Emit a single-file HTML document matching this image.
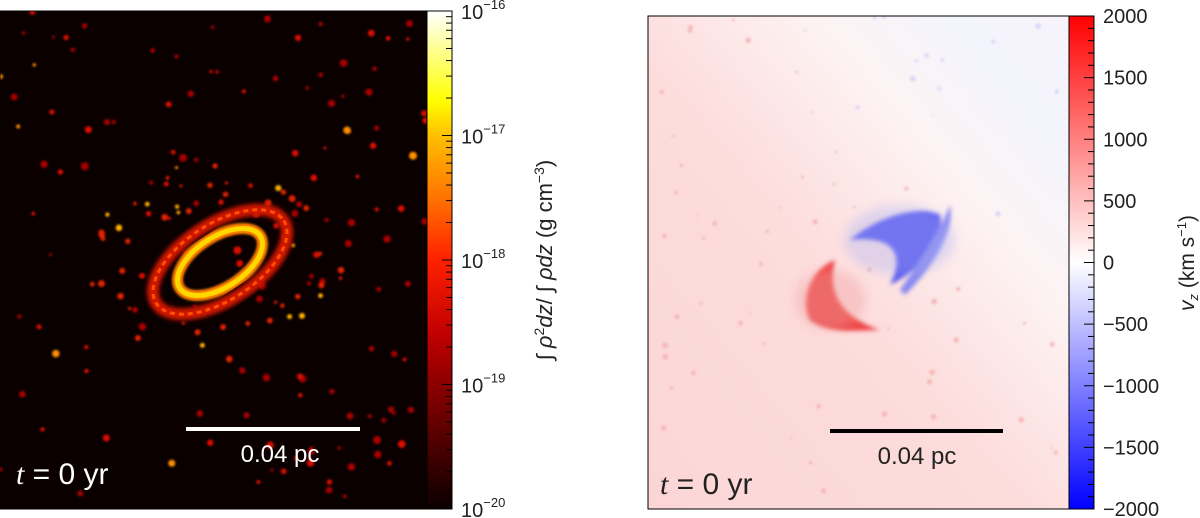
<!DOCTYPE html>
<html><head><meta charset="utf-8"><style>
html,body{margin:0;padding:0;background:#fff;width:1200px;height:518px;overflow:hidden}
svg text{font-family:"Liberation Sans",sans-serif;fill:#222}
</style></head><body>
<svg id="fig" width="1200" height="518" viewBox="0 0 1200 518">
<defs>
<linearGradient id="hot" x1="0" y1="1" x2="0" y2="0">
<stop offset="0" stop-color="#0a0000"/><stop offset="0.35" stop-color="#c00000"/><stop offset="0.5" stop-color="#ff2000"/><stop offset="0.62" stop-color="#ff7000"/><stop offset="0.75" stop-color="#ffc000"/><stop offset="0.82" stop-color="#ffff00"/><stop offset="1" stop-color="#ffffff"/>
</linearGradient>
<linearGradient id="bwr" x1="0" y1="1" x2="0" y2="0">
<stop offset="0" stop-color="#0000ff"/><stop offset="0.5" stop-color="#ffffff"/><stop offset="1" stop-color="#ff0000"/>
</linearGradient>
<linearGradient id="vbg" x1="0" y1="1" x2="1" y2="0">
<stop offset="0" stop-color="#fcd6d6"/><stop offset="0.45" stop-color="#fddcdc"/><stop offset="0.7" stop-color="#fdf3f3"/><stop offset="0.85" stop-color="#f4f4fd"/><stop offset="1" stop-color="#f6f3fb"/>
</linearGradient>
<filter id="blur1"><feGaussianBlur stdDeviation="1"/></filter>
<filter id="blur2"><feGaussianBlur stdDeviation="2"/></filter>
<filter id="blur4"><feGaussianBlur stdDeviation="5"/></filter>
<clipPath id="clipL"><rect x="0" y="11" width="427" height="498"/></clipPath>
<clipPath id="clipR"><rect x="648" y="16" width="421" height="493"/></clipPath>
</defs>

<g clip-path="url(#clipL)">
<rect x="0" y="11" width="427" height="498" fill="#0a0000"/>
<g id="blobsL" filter="url(#blur1)"></g>
<g transform="translate(220,262) rotate(-33)">
<ellipse cx="0" cy="0" rx="76" ry="38" fill="none" stroke="#d01800" stroke-width="12" filter="url(#blur2)"/>
<ellipse cx="0" cy="0" rx="76" ry="38" fill="none" stroke="#ff5000" stroke-width="3" stroke-dasharray="5 4"/>
<ellipse cx="0" cy="0" rx="48" ry="25" fill="none" stroke="#ff8000" stroke-width="11" filter="url(#blur1)"/>
<ellipse cx="0" cy="0" rx="48" ry="25" fill="none" stroke="#ffd800" stroke-width="5"/>
</g>
<rect x="186" y="427" width="174" height="4" fill="#fff"/>
<text x="280" y="462" font-size="24" text-anchor="middle" style="fill:#fff">0.04 pc</text>
<text x="16" y="484" font-size="30" style="fill:#fff"><tspan font-style="italic" font-family="Liberation Serif">t</tspan> = 0 yr</text>
</g>
<rect x="0" y="11" width="427" height="498" fill="none" stroke="#000" stroke-width="1"/>

<g>
<rect x="427" y="11" width="25" height="498" fill="url(#hot)" stroke="#000" stroke-width="1"/>
<g id="ticksL"></g>
</g>
<text transform="translate(552,260) rotate(-90)" font-size="22" text-anchor="middle">∫ <tspan font-style="italic">ρ</tspan><tspan font-size="14" dy="-8">2</tspan><tspan dy="8" font-style="italic">dz</tspan>/ ∫ <tspan font-style="italic">ρdz</tspan> (g cm<tspan font-size="14" dy="-8">−3</tspan><tspan dy="8">)</tspan></text>

<g clip-path="url(#clipR)">
<rect x="648" y="16" width="421" height="493" fill="url(#vbg)"/>
<g id="blobsR" filter="url(#blur1)"></g>
<g filter="url(#blur2)">
<path d="M850,240 C880,215 920,205 940,215 C945,240 920,270 890,285 C905,255 895,235 850,240Z" fill="#5555ee"/>
<path d="M900,290 C925,255 945,220 950,205 C955,230 935,265 905,295Z" fill="#8888f0"/>
<path d="M835,260 C810,270 800,300 810,320 C830,335 860,330 880,330 C850,320 825,300 835,260Z" fill="#ee4444"/>
</g>
<ellipse cx="900" cy="240" rx="55" ry="35" fill="#aab0f4" opacity="0.35" filter="url(#blur4)"/>
<ellipse cx="830" cy="300" rx="35" ry="30" fill="#f0a0a0" opacity="0.4" filter="url(#blur4)"/>
<rect x="830" y="429" width="173" height="4" fill="#000"/>
<text x="917" y="464" font-size="24" text-anchor="middle">0.04 pc</text>
<text x="660" y="494" font-size="30"><tspan font-style="italic" font-family="Liberation Serif">t</tspan> = 0 yr</text>
</g>
<rect x="648" y="16" width="421" height="493" fill="none" stroke="#000" stroke-width="1"/>

<g>
<rect x="1069" y="16" width="25" height="493" fill="url(#bwr)" stroke="#000" stroke-width="1"/>
<g id="ticksR"></g>
</g>
<text transform="translate(1194,263) rotate(-90)" font-size="21" text-anchor="middle"><tspan font-style="italic">v</tspan><tspan font-size="13" dy="4" font-style="italic">z</tspan><tspan dy="-4"> (km s</tspan><tspan font-size="13" dy="-8">−1</tspan><tspan dy="8">)</tspan></text>
</svg>
<script>
const densityExponents=[-16,-17,-18,-19,-20];
const densityMin=-20, densityMax=-16;
const velocityTicks=[2000,1500,1000,500,0,-500,-1000,-1500,-2000];
const velocityMin=-2000, velocityMax=2000;
const NS="http://www.w3.org/2000/svg";
function mk(t,a){const e=document.createElementNS(NS,t);for(const k in a)e.setAttribute(k,a[k]);return e;}
function yL(v){return 509-(v-densityMin)/(densityMax-densityMin)*498;}
function yR(v){return 509-(v-velocityMin)/(velocityMax-velocityMin)*493;}
const tL=document.getElementById('ticksL');
for(let e=densityMin;e<densityMax;e++){for(let m=2;m<10;m++){const y=yL(e+Math.log10(m));const l=mk('line',{x1:452,x2:446,y1:y,y2:y,stroke:'#000','stroke-width':1});tL.appendChild(l);}}
densityExponents.forEach(e=>{const y=yL(e);
const l=mk('line',{x1:452,x2:442,y1:y,y2:y,stroke:'#000','stroke-width':1});tL.appendChild(l);
const t=mk('text',{x:461,y:y+8,'font-size':20});


t.innerHTML='10<tspan font-size="13" dy="-10">−'+Math.abs(e)+'</tspan>';tL.appendChild(t);});
const tR=document.getElementById('ticksR');
for(let v=velocityMin;v<=velocityMax;v+=100){const y=yR(v);const l=mk('line',{x1:1094,x2:v%500===0?1084:1088,y1:y,y2:y,stroke:'#000','stroke-width':1});tR.appendChild(l);}
velocityTicks.forEach(v=>{const y=yR(v);const t=mk('text',{x:1103,y:y+7,'font-size':20});


t.textContent=(v<0?'−':'')+Math.abs(v);tR.appendChild(t);});
// decorative gas clumps (texture only)
let s=7;function r(){s=(s*16807)%2147483647;return s/2147483647;}
const bL=document.getElementById('blobsL');
for(let i=0;i<140;i++){const x=r()*427,y=11+r()*498,rr=1.5+r()*2.5;const q=r();const c=mk('circle',{cx:x,cy:y,r:rr,fill:q<0.06?'#ff9000':(q<0.5?'#d81000':'#a80600')});bL.appendChild(c);}
for(let i=0;i<50;i++){const a=r()*6.28,d=60+r()*50;const c=mk('circle',{cx:220+Math.cos(a)*d*1.2,cy:262+Math.sin(a)*d*0.9,r:1.5+r()*2,fill:r()<0.2?'#ffb000':'#e02000'});bL.appendChild(c);}
const bR=document.getElementById('blobsR');
for(let i=0;i<70;i++){const x=648+r()*421,y=16+r()*493,rr=1+r()*2;const red=(x-648)/421+(509-y)/493<1.3;const c=mk('circle',{cx:x,cy:y,r:rr,fill:red?'#f4b0b0':'#d0d0f4',opacity:0.8});bR.appendChild(c);}
</script>
</body></html>
